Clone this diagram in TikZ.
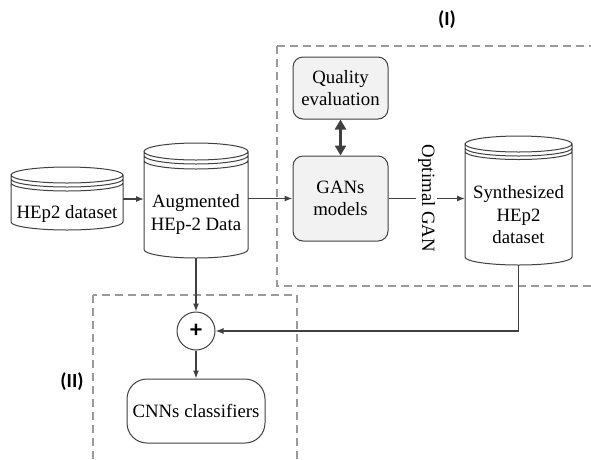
\documentclass[tikz,border=0pt]{standalone}
\usepackage{fontspec}
\setmainfont{Liberation Serif}
\newfontfamily\tagfont{Carlito}
\usetikzlibrary{arrows.meta,calc}

\definecolor{ink}{HTML}{404040}
\definecolor{boxfill}{HTML}{F2F2F2}
\definecolor{frame}{HTML}{9A9A9A}

\tikzset{
  txt/.style={font=\fontsize{18.8}{22.5}\selectfont, align=center},
  holder/.style={draw=none, inner sep=0pt, outer sep=0pt},
  cylline/.style={draw=ink, line width=1pt},
  gbox/.style={txt, draw=ink, line width=1pt, fill=boxfill, rounded corners=10pt,
    minimum width=95pt, inner sep=0pt},
  wbox/.style={txt, draw=ink, line width=1pt, fill=white, rounded corners=20pt,
    minimum width=138pt, minimum height=64pt, inner sep=0pt},
  conn/.style={draw=ink, line width=1.2pt, -{Latex[length=8pt,width=6pt]}},
  region/.style={draw=frame, line width=1.3pt, dash pattern=on 8pt off 5pt},
  tag/.style={font=\tagfont\bfseries\fontsize{20}{22}\selectfont},
}

% stacked-disk cylinder drawn around a named node
% #1 node, #2 half height of the top ellipse, #3 #4 offsets of the extra rims
\newcommand\stackedcyl[4]{%
  \draw[cylline] let \p1=(#1.north west), \p2=(#1.south east), \n1={(\x2-\x1)/2} in
    (\x1,\y1-#2) -- (\x1,\y2+#2)
      arc[start angle=180, end angle=360, x radius=\n1, y radius=#2]
      -- (\x2,\y1-#2)
    (\x1+\n1,\y1-#2) ellipse[x radius=\n1, y radius=#2]
    (\x1,\y1-#2-#3) arc[start angle=180, end angle=360, x radius=\n1, y radius=#2]
    (\x1,\y1-#2-#4) arc[start angle=180, end angle=360, x radius=\n1, y radius=#2];}

\begin{document}
\begin{tikzpicture}[x=1pt, y=-1pt]
\useasboundingbox (0,0) rectangle (591,459);

% dashed regions
\draw[region] (277,46) rectangle (600,286);
\draw[region] (93,295) rectangle (297,470);
\node[tag] (tagI) at (447,20) {(I)};
\node[tag] (tagII) at (72,382) {(II)};

% data stores
\node[holder, minimum width=112pt, minimum height=63pt,
  label={[txt, yshift=-15pt]center:HEp2 dataset}] (hep) at (67,198.5) {};
\stackedcyl{hep}{8pt}{4pt}{8pt}

\node[holder, minimum width=104pt, minimum height=115pt,
  label={[txt, yshift=-14pt]center:Augmented\\HEp-2 Data}] (aug) at (196,200.5) {};
\stackedcyl{aug}{8.5pt}{4pt}{9pt}

\node[holder, minimum width=107pt, minimum height=129pt,
  label={[txt, yshift=-14.5pt]center:Synthesized\\HEp2\\dataset}] (syn) at (518.5,200.5) {};
\stackedcyl{syn}{8pt}{4pt}{7.5pt}

% processing boxes
\node[gbox, minimum height=62pt] (qual) at (340.5,88) {Quality\\evaluation};
\node[gbox, minimum height=85pt] (gan) at (340.5,198.5) {GANs\\models};
\node[circle, draw=ink, line width=1pt, fill=white, minimum size=38pt, inner sep=0pt,
  font=\tagfont\bfseries\fontsize{24}{24}\selectfont] (plus) at (196,331) {+};
\node[wbox] (cnn) at (196,411) {CNNs classifiers};

% connectors
\draw[conn] (hep.east |- 0,199) -- (aug.west |- 0,199);
\draw[conn] (aug.east |- gan.west) -- (gan.west);
\draw[conn] (gan.east) -- node[txt, rotate=-90, fill=white, inner sep=2pt] (optlbl) {Optimal GAN} (syn.west |- gan.east);
\draw[draw=ink, line width=3pt, {Triangle[length=10pt,width=11pt]}-{Triangle[length=10pt,width=11pt]}]
  (qual.south) -- (gan.north);
\draw[conn] (aug.south) -- (plus.north);
\draw[conn] (syn.south) |- (plus.east);
\draw[conn] (plus.south) -- (cnn.north);
\end{tikzpicture}
\end{document}
